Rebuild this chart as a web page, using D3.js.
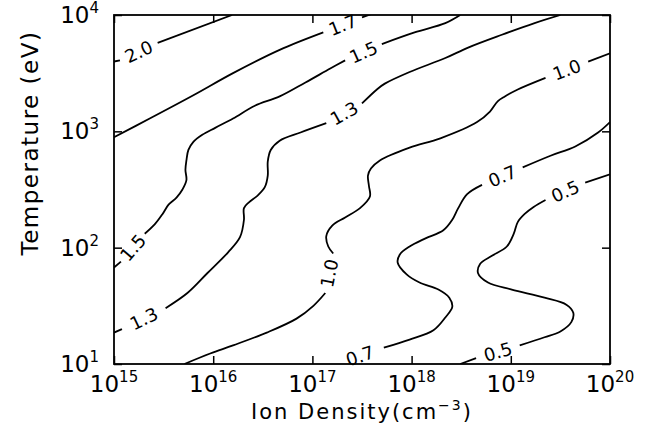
<!DOCTYPE html>
<html>
<head>
<meta charset="utf-8">
<script src="https://cdn.jsdelivr.net/npm/d3@7"></script>
<style>
    html, body { margin: 0; padding: 0; background: #fff; }
    svg text { font-family: "DejaVu Sans", sans-serif; fill: #000; }
</style>
</head>
<body>
<svg id="chart" width="651" height="442"></svg>
<script>
// tick exponents (powers of ten)
const xExps = [15, 16, 17, 18, 19, 20];
const yExps = [1, 2, 3, 4];

// contour levels, in drawing order
const levels = ['2.0', '1.7', '1.5', '1.3', '1.0', '0.7', '0.5'];

// contour paths: [log10 density, log10 temperature]
const c20 = [[15.00, 3.60], [15.06, 3.61], [15.44, 3.76], [16.19, 4.00]];
const c17 = [[15.00, 2.95], [15.36, 3.11], [15.80, 3.31], [16.20, 3.50], [16.67, 3.70],
    [17.11, 3.85], [17.50, 3.98], [17.60, 4.01]];
const c15 = [[15.00, 1.83], [15.07, 1.88], [15.31, 2.12], [15.41, 2.20], [15.49, 2.29],
    [15.55, 2.37], [15.63, 2.43], [15.69, 2.50], [15.73, 2.58], [15.72, 2.67], [15.73, 2.75],
    [15.75, 2.84], [15.80, 2.91], [15.89, 2.97], [16.02, 3.03], [16.20, 3.11], [16.42, 3.22],
    [16.67, 3.30], [16.93, 3.42], [17.18, 3.54], [17.33, 3.61], [17.70, 3.75], [18.03, 3.85],
    [18.34, 3.93], [18.49, 4.00]];
const c13 = [[15.00, 1.27], [15.08, 1.30], [15.52, 1.48], [15.74, 1.61], [15.94, 1.78],
    [16.15, 1.96], [16.27, 2.09], [16.31, 2.24], [16.31, 2.34], [16.36, 2.39], [16.45, 2.45],
    [16.52, 2.52], [16.55, 2.62], [16.55, 2.74], [16.58, 2.84], [16.67, 2.92], [16.88, 2.99],
    [17.14, 3.07], [17.50, 3.24], [17.65, 3.36], [17.73, 3.41], [17.98, 3.51], [18.34, 3.63],
    [18.57, 3.72], [18.91, 3.83], [19.24, 3.93], [19.50, 4.00]];
const c10 = [[15.71, 1.00], [15.97, 1.09], [16.20, 1.16], [16.54, 1.27], [16.84, 1.39],
    [17.01, 1.50], [17.13, 1.61], [17.21, 1.95], [17.16, 2.01], [17.14, 2.10], [17.20, 2.19],
    [17.33, 2.26], [17.48, 2.34], [17.58, 2.44], [17.57, 2.53], [17.56, 2.62], [17.59, 2.68],
    [17.68, 2.75], [17.98, 2.86], [18.29, 2.94], [18.66, 3.08], [18.79, 3.17], [18.87, 3.26],
    [18.94, 3.30], [19.07, 3.36], [19.35, 3.46], [19.78, 3.60], [20.00, 3.67]];
const c07 = [[17.24, 1.00], [17.72, 1.14], [17.98, 1.21], [18.22, 1.29], [18.34, 1.40],
    [18.41, 1.49], [18.38, 1.57], [18.27, 1.64], [18.08, 1.70], [17.95, 1.77], [17.86, 1.87],
    [17.88, 1.94], [17.98, 2.01], [18.14, 2.08], [18.32, 2.15], [18.41, 2.24], [18.47, 2.34],
    [18.56, 2.46], [18.71, 2.54], [19.12, 2.69], [19.40, 2.79], [19.65, 2.87], [19.88, 2.99],
    [20.00, 3.08]];
const c05 = [[18.49, 1.00], [18.65, 1.05], [19.09, 1.16], [19.34, 1.23], [19.50, 1.28],
    [19.61, 1.36], [19.63, 1.44], [19.56, 1.51], [19.34, 1.57], [19.01, 1.64], [18.77, 1.70],
    [18.67, 1.78], [18.69, 1.86], [18.81, 1.93], [18.96, 2.01], [19.03, 2.12], [19.07, 2.22],
    [19.14, 2.29], [19.23, 2.35], [19.35, 2.41], [19.75, 2.56], [20.00, 2.63]];

// label sits in the gap after this point index
const labelGaps = [[1], [5], [1, 20], [1, 17], [6, 25], [0, 18], [1, 19]];

const contours = [c20, c17, c15, c13, c10, c07, c05];

const x = d3.scaleLog().domain([1e15, 1e20]).range([114, 610]);
const y = d3.scaleLog().domain([1e1, 1e4]).range([364, 15]);

const svg = d3.select('#chart');

svg.append('clipPath')
    .attr('id', 'plotClip')
    .append('rect')
    .attr('x', 114).attr('y', 15)
    .attr('width', 496).attr('height', 349);

const plot = svg.append('g').attr('clip-path', 'url(#plotClip)');
const labels = svg.append('g');

const line = d3.line().curve(d3.curveCatmullRom.alpha(0.5));

contours.forEach((pts, k) => {
    const px = pts.map(d => [x(10 ** d[0]), y(10 ** d[1])]);

    // split at label gaps
    const pieces = [];
    let start = 0;
    labelGaps[k].forEach(g => {
        pieces.push(px.slice(start, g + 1));
        start = g + 1;
    });
    pieces.push(px.slice(start));

    pieces.filter(p => p.length > 1).forEach(p => {
        plot.append('path')
            .attr('d', line(p))
            .attr('fill', 'none')
            .attr('stroke', '#000')
            .attr('stroke-width', 1.8)
            .attr('stroke-linejoin', 'round');
    });

    labelGaps[k].forEach(g => {
        const a = px[g], b = px[g + 1];
        let ang = Math.atan2(b[1] - a[1], b[0] - a[0]) * 180 / Math.PI;
        if (ang > 90) ang -= 180;
        if (ang < -90) ang += 180;
        labels.append('text')
            .attr('transform', `translate(${(a[0] + b[0]) / 2},${(a[1] + b[1]) / 2}) rotate(${ang})`)
            .attr('text-anchor', 'middle')
            .attr('dy', '0.36em')
            .style('font-size', '18px')
            .text(levels[k]);
    });
});

// ticks on all four sides, pointing inward
const xTicks = xExps.map(e => 10 ** e);
const yTicks = yExps.map(e => 10 ** e);

svg.append('g')
    .attr('transform', 'translate(0,364)')
    .call(d3.axisBottom(x).tickValues(xTicks).tickSizeInner(-8).tickSizeOuter(0).tickFormat(''));
svg.append('g')
    .attr('transform', 'translate(0,15)')
    .call(d3.axisTop(x).tickValues(xTicks).tickSizeInner(-8).tickSizeOuter(0).tickFormat(''));
svg.append('g')
    .attr('transform', 'translate(114,0)')
    .call(d3.axisLeft(y).tickValues(yTicks).tickSizeInner(-8).tickSizeOuter(0).tickFormat(''));
svg.append('g')
    .attr('transform', 'translate(610,0)')
    .call(d3.axisRight(y).tickValues(yTicks).tickSizeInner(-8).tickSizeOuter(0).tickFormat(''));

svg.selectAll('.domain').remove();
svg.selectAll('.tick line').attr('stroke', '#000').attr('stroke-width', 1.5);

svg.append('rect')
    .attr('x', 114).attr('y', 15)
    .attr('width', 496).attr('height', 349)
    .attr('fill', 'none')
    .attr('stroke', '#000')
    .attr('stroke-width', 1.8);

// tick labels with superscript exponents
xExps.forEach(e => {
    const t = svg.append('text')
        .attr('x', x(10 ** e))
        .attr('y', 392)
        .attr('text-anchor', 'middle')
        .style('font-size', '23px');
    t.append('tspan').text('10');
    t.append('tspan').attr('dy', -10).style('font-size', '15px').text(e);
});

yExps.forEach(e => {
    const t = svg.append('text')
        .attr('x', 99)
        .attr('y', y(10 ** e) + 8)
        .attr('text-anchor', 'end')
        .style('font-size', '23px');
    t.append('tspan').text('10');
    t.append('tspan').attr('dy', -10).style('font-size', '15px').text(e);
});

// axis titles
const xTitle = svg.append('text')
    .attr('x', 362)
    .attr('y', 419)
    .attr('text-anchor', 'middle')
    .style('font-size', '21px')
    .style('letter-spacing', '2px');
xTitle.append('tspan').text('Ion Density(cm');
xTitle.append('tspan').attr('dy', -9).style('font-size', '14px').text('\u22123');
xTitle.append('tspan').attr('dy', 9).text(')');

svg.append('text')
    .attr('transform', 'translate(38,143) rotate(-90)')
    .attr('text-anchor', 'middle')
    .style('font-size', '23px')
    .style('letter-spacing', '1.5px')
    .text('Temperature (eV)');
</script>
</body>
</html>
